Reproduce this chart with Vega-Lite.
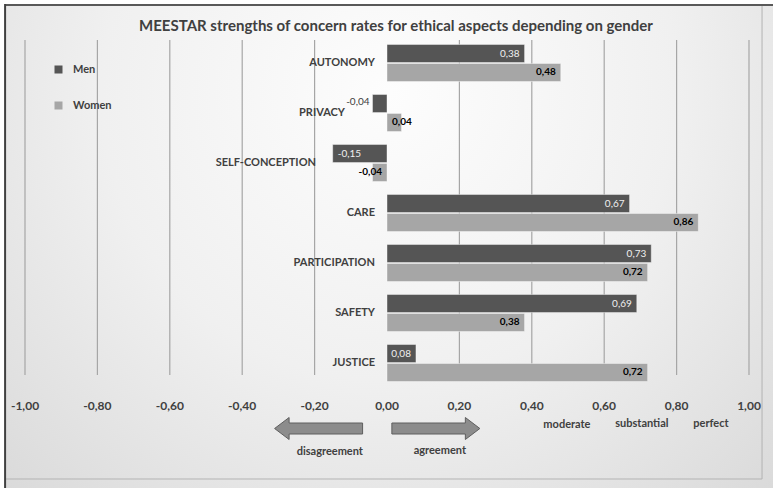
{
  "$schema": "https://vega.github.io/schema/vega-lite/v6.json",
  "width": 724,
  "height": 350,
  "autosize": {"type": "none"},
  "padding": {"left": 25, "top": 38, "right": 24, "bottom": 100},
  "background": "#ffffff",
  "title": {
    "text": "MEESTAR strengths of concern rates for ethical aspects depending on gender",
    "frame": "group",
    "anchor": "middle",
    "dx": 9,
    "offset": -31,
    "zindex": 1,
    "font": "Lato",
    "fontSize": 15,
    "fontWeight": "bold",
    "color": "#404040"
  },
  "config": {
    "locale": {"number": {"decimal": ",", "thousands": ".", "grouping": [3], "currency": ["", " €"], "minus": "-"}},
    "view": {"stroke": null},
    "font": "Lato",
    "text": {"font": "Lato"}
  },
  "datasets": {
    "rates": [
      {"aspect": "AUTONOMY", "gender": "Men", "value": 0.38},
      {"aspect": "AUTONOMY", "gender": "Women", "value": 0.48},
      {"aspect": "PRIVACY", "gender": "Men", "value": -0.04},
      {"aspect": "PRIVACY", "gender": "Women", "value": 0.04},
      {"aspect": "SELF-CONCEPTION", "gender": "Men", "value": -0.15},
      {"aspect": "SELF-CONCEPTION", "gender": "Women", "value": -0.04},
      {"aspect": "CARE", "gender": "Men", "value": 0.67},
      {"aspect": "CARE", "gender": "Women", "value": 0.86},
      {"aspect": "PARTICIPATION", "gender": "Men", "value": 0.73},
      {"aspect": "PARTICIPATION", "gender": "Women", "value": 0.72},
      {"aspect": "SAFETY", "gender": "Men", "value": 0.69},
      {"aspect": "SAFETY", "gender": "Women", "value": 0.38},
      {"aspect": "JUSTICE", "gender": "Men", "value": 0.08},
      {"aspect": "JUSTICE", "gender": "Women", "value": 0.72}
    ],
    "grid": [
      {"tick": -1}, {"tick": -0.8}, {"tick": -0.6}, {"tick": -0.4}, {"tick": -0.2}, {"tick": 0},
      {"tick": 0.2}, {"tick": 0.4}, {"tick": 0.6}, {"tick": 0.8}, {"tick": 1}
    ]
  },
  "resolve": {"scale": {"y": "independent"}},
  "layer": [
    {
      "data": {"values": [{}]},
      "layer": [
        {
          "mark": {
            "type": "rect",
            "fill": {
              "gradient": "radial",
              "x1": 0.5, "y1": 0.3, "r1": 0,
              "x2": 0.5, "y2": 0.3, "r2": 0.75,
              "stops": [
                {"offset": 0, "color": "#fdfdfd"},
                {"offset": 0.5, "color": "#f0f0f0"},
                {"offset": 1, "color": "#d8d8d8"}
              ]
            }
          },
          "encoding": {
            "x": {"datum": -1.055, "type": "quantitative", "scale": {"domain": [-1, 1], "nice": false}, "axis": null},
            "x2": {"datum": 1.07},
            "y": {"datum": 383, "type": "quantitative", "scale": {"domain": [0, 350], "nice": false}, "axis": null},
            "y2": {"datum": -100}
          }
        },
        {
          "mark": {"type": "rule", "color": "#b3b3b3", "strokeWidth": 1},
          "encoding": {
            "x": {"datum": 1.036, "type": "quantitative", "scale": {"domain": [-1, 1], "nice": false}, "axis": null},
            "y": {"datum": 383, "type": "quantitative", "scale": {"domain": [0, 350], "nice": false}, "axis": null},
            "y2": {"datum": -91}
          }
        },
        {
          "mark": {"type": "rule", "color": "#b3b3b3", "strokeWidth": 1},
          "encoding": {
            "x": {"datum": -1.055, "type": "quantitative", "scale": {"domain": [-1, 1], "nice": false}, "axis": null},
            "x2": {"datum": 1.036},
            "y": {"datum": -91, "type": "quantitative", "scale": {"domain": [0, 350], "nice": false}, "axis": null}
          }
        },
        {
          "mark": {"type": "rule", "color": "#595959", "strokeWidth": 2},
          "encoding": {
            "x": {"datum": -1.055, "type": "quantitative", "scale": {"domain": [-1, 1], "nice": false}, "axis": null},
            "x2": {"datum": 1.07},
            "y": {"datum": 383, "type": "quantitative", "scale": {"domain": [0, 350], "nice": false}, "axis": null}
          }
        },
        {
          "mark": {"type": "rule", "color": "#404040", "strokeWidth": 2},
          "encoding": {
            "x": {"datum": -1.055, "type": "quantitative", "scale": {"domain": [-1, 1], "nice": false}, "axis": null},
            "y": {"datum": 384, "type": "quantitative", "scale": {"domain": [0, 350], "nice": false}, "axis": null},
            "y2": {"datum": -100}
          }
        },
        {
          "data": {"name": "grid"},
          "transform": [{"filter": "datum.tick != 0"}],
          "mark": {"type": "rule", "color": "#a6a6a6", "strokeWidth": 1.2},
          "encoding": {
            "x": {"field": "tick", "type": "quantitative", "scale": {"domain": [-1, 1], "nice": false}, "axis": null},
            "y": {"datum": 348, "type": "quantitative", "scale": {"domain": [0, 350], "nice": false}, "axis": null},
            "y2": {"datum": 13}
          }
        },
        {
          "data": {"name": "grid"},
          "mark": {"type": "text", "font": "Lato", "fontSize": 12, "fontWeight": "bold", "color": "#404040", "baseline": "middle"},
          "encoding": {
            "x": {"field": "tick", "type": "quantitative", "scale": {"domain": [-1, 1], "nice": false}, "axis": null},
            "y": {"datum": -18, "type": "quantitative", "scale": {"domain": [0, 350], "nice": false}, "axis": null},
            "text": {"field": "tick", "type": "quantitative", "format": ".2f"}
          }
        },
        {
          "mark": {
            "type": "point",
            "shape": "M1,-0.125L-0.67,-0.125L-0.67,-0.25L-1,0L-0.67,0.25L-0.67,0.125L1,0.125Z",
            "filled": true,
            "fill": "#8c8c8c",
            "stroke": "#5f5f5f",
            "strokeWidth": 1,
            "opacity": 1,
            "size": 7744
          },
          "encoding": {
            "x": {"datum": -0.189, "type": "quantitative", "scale": {"domain": [-1, 1], "nice": false}, "axis": null},
            "y": {"datum": -40.5, "type": "quantitative", "scale": {"domain": [0, 350], "nice": false}, "axis": null}
          }
        },
        {
          "mark": {
            "type": "point",
            "shape": "M-1,-0.125L0.67,-0.125L0.67,-0.25L1,0L0.67,0.25L0.67,0.125L-1,0.125Z",
            "filled": true,
            "fill": "#8c8c8c",
            "stroke": "#5f5f5f",
            "strokeWidth": 1,
            "opacity": 1,
            "size": 7744
          },
          "encoding": {
            "x": {"datum": 0.135, "type": "quantitative", "scale": {"domain": [-1, 1], "nice": false}, "axis": null},
            "y": {"datum": -40.5, "type": "quantitative", "scale": {"domain": [0, 350], "nice": false}, "axis": null}
          }
        },
        {
          "mark": {"type": "text", "font": "Lato", "fontSize": 11, "fontWeight": "bold", "color": "#404040", "baseline": "middle"},
          "encoding": {
            "x": {"datum": -0.158, "type": "quantitative", "scale": {"domain": [-1, 1], "nice": false}, "axis": null},
            "y": {"datum": -64, "type": "quantitative", "scale": {"domain": [0, 350], "nice": false}, "axis": null},
            "text": {"value": "disagreement"}
          }
        },
        {
          "mark": {"type": "text", "font": "Lato", "fontSize": 11, "fontWeight": "bold", "color": "#404040", "baseline": "middle"},
          "encoding": {
            "x": {"datum": 0.146, "type": "quantitative", "scale": {"domain": [-1, 1], "nice": false}, "axis": null},
            "y": {"datum": -63, "type": "quantitative", "scale": {"domain": [0, 350], "nice": false}, "axis": null},
            "text": {"value": "agreement"}
          }
        },
        {
          "mark": {"type": "text", "font": "Lato", "fontSize": 11, "fontWeight": "bold", "color": "#404040", "baseline": "middle"},
          "encoding": {
            "x": {"datum": 0.497, "type": "quantitative", "scale": {"domain": [-1, 1], "nice": false}, "axis": null},
            "y": {"datum": -37, "type": "quantitative", "scale": {"domain": [0, 350], "nice": false}, "axis": null},
            "text": {"value": "moderate"}
          }
        },
        {
          "mark": {"type": "text", "font": "Lato", "fontSize": 11, "fontWeight": "bold", "color": "#404040", "baseline": "middle"},
          "encoding": {
            "x": {"datum": 0.704, "type": "quantitative", "scale": {"domain": [-1, 1], "nice": false}, "axis": null},
            "y": {"datum": -36, "type": "quantitative", "scale": {"domain": [0, 350], "nice": false}, "axis": null},
            "text": {"value": "substantial"}
          }
        },
        {
          "mark": {"type": "text", "font": "Lato", "fontSize": 11, "fontWeight": "bold", "color": "#404040", "baseline": "middle"},
          "encoding": {
            "x": {"datum": 0.895, "type": "quantitative", "scale": {"domain": [-1, 1], "nice": false}, "axis": null},
            "y": {"datum": -36, "type": "quantitative", "scale": {"domain": [0, 350], "nice": false}, "axis": null},
            "text": {"value": "perfect"}
          }
        }
      ]
    },
    {
      "data": {"name": "rates"},
      "encoding": {
        "y": {"field": "aspect", "type": "nominal", "sort": null, "axis": null, "scale": {"paddingInner": 0.26, "paddingOuter": 0.13}}
      },
      "layer": [
        {
          "mark": {"type": "bar", "stroke": "#ffffff", "strokeOpacity": 0.5, "strokeWidth": 0.8},
          "encoding": {
            "x": {"field": "value", "type": "quantitative", "scale": {"domain": [-1, 1], "nice": false}, "axis": null},
            "x2": {"datum": 0},
            "yOffset": {"field": "gender", "type": "nominal", "sort": ["Men", "Women"], "scale": {"paddingInner": 0.05}},
            "color": {
              "field": "gender", "type": "nominal",
              "scale": {"domain": ["Men", "Women"], "range": ["#555555", "#a6a6a6"]},
              "legend": {
                "title": null, "orient": "none", "legendX": 28, "legendY": 26,
                "padding": 0, "symbolType": "square", "symbolSize": 64,
                "symbolStrokeWidth": 0, "rowPadding": 24, "labelOffset": 9,
                "labelFont": "Lato", "labelFontSize": 11, "labelFontWeight": "bold",
                "labelColor": "#404040"
              }
            }
          }
        },
        {
          "mark": {"type": "rule", "color": "#333333", "strokeWidth": 1.5},
          "encoding": {
            "x": {"datum": 0, "type": "quantitative", "scale": {"domain": [-1, 1], "nice": false}, "axis": null}
          }
        },
        {
          "transform": [{"filter": "datum.gender == 'Men' && datum.aspect != 'PRIVACY' && datum.aspect != 'SELF-CONCEPTION'"}],
          "mark": {"type": "text", "align": "right", "dx": -12, "font": "Lato", "fontSize": 11, "fontWeight": "bold", "color": "#404040", "baseline": "middle"},
          "encoding": {
            "x": {"datum": 0, "type": "quantitative", "scale": {"domain": [-1, 1], "nice": false}, "axis": null},
            "text": {"field": "aspect"}
          }
        },
        {
          "transform": [{"filter": "datum.gender == 'Men' && datum.aspect == 'PRIVACY'"}],
          "mark": {"type": "text", "align": "right", "dx": -42, "font": "Lato", "fontSize": 11, "fontWeight": "bold", "color": "#404040", "baseline": "middle"},
          "encoding": {
            "x": {"datum": 0, "type": "quantitative", "scale": {"domain": [-1, 1], "nice": false}, "axis": null},
            "text": {"field": "aspect"}
          }
        },
        {
          "transform": [{"filter": "datum.gender == 'Men' && datum.aspect == 'SELF-CONCEPTION'"}],
          "mark": {"type": "text", "align": "right", "dx": -71, "font": "Lato", "fontSize": 11, "fontWeight": "bold", "color": "#404040", "baseline": "middle"},
          "encoding": {
            "x": {"datum": 0, "type": "quantitative", "scale": {"domain": [-1, 1], "nice": false}, "axis": null},
            "text": {"field": "aspect"}
          }
        },
        {
          "transform": [{"filter": "datum.gender == 'Men' && datum.value >= 0"}],
          "mark": {"type": "text", "align": "right", "dx": -5, "font": "Lato", "fontSize": 10, "color": "#f0f0f0", "baseline": "middle"},
          "encoding": {
            "x": {"field": "value", "type": "quantitative", "scale": {"domain": [-1, 1], "nice": false}, "axis": null},
            "yOffset": {"field": "gender", "type": "nominal", "sort": ["Men", "Women"], "scale": {"paddingInner": 0.05}},
            "text": {"field": "value", "type": "quantitative", "format": ".2f"}
          }
        },
        {
          "transform": [{"filter": "datum.gender == 'Men' && datum.value < 0 && datum.value > -0.1"}],
          "mark": {"type": "text", "align": "right", "dx": -3, "dy": -2, "font": "Lato", "fontSize": 10, "color": "#404040", "baseline": "middle"},
          "encoding": {
            "x": {"field": "value", "type": "quantitative", "scale": {"domain": [-1, 1], "nice": false}, "axis": null},
            "yOffset": {"field": "gender", "type": "nominal", "sort": ["Men", "Women"], "scale": {"paddingInner": 0.05}},
            "text": {"field": "value", "type": "quantitative", "format": ".2f"}
          }
        },
        {
          "transform": [{"filter": "datum.gender == 'Men' && datum.value <= -0.1"}],
          "mark": {"type": "text", "align": "left", "dx": 5, "font": "Lato", "fontSize": 10, "color": "#f0f0f0", "baseline": "middle"},
          "encoding": {
            "x": {"field": "value", "type": "quantitative", "scale": {"domain": [-1, 1], "nice": false}, "axis": null},
            "yOffset": {"field": "gender", "type": "nominal", "sort": ["Men", "Women"], "scale": {"paddingInner": 0.05}},
            "text": {"field": "value", "type": "quantitative", "format": ".2f"}
          }
        },
        {
          "transform": [{"filter": "datum.gender == 'Women' && datum.value >= 0.1"}],
          "mark": {"type": "text", "align": "right", "dx": -5, "font": "Lato", "fontSize": 10, "fontWeight": "bold", "color": "#000000", "baseline": "middle"},
          "encoding": {
            "x": {"field": "value", "type": "quantitative", "scale": {"domain": [-1, 1], "nice": false}, "axis": null},
            "yOffset": {"field": "gender", "type": "nominal", "sort": ["Men", "Women"], "scale": {"paddingInner": 0.05}},
            "text": {"field": "value", "type": "quantitative", "format": ".2f"}
          }
        },
        {
          "transform": [{"filter": "datum.gender == 'Women' && datum.value >= 0 && datum.value < 0.1"}],
          "mark": {"type": "text", "align": "left", "dx": 5, "font": "Lato", "fontSize": 10, "fontWeight": "bold", "color": "#000000", "baseline": "middle"},
          "encoding": {
            "x": {"datum": 0, "type": "quantitative", "scale": {"domain": [-1, 1], "nice": false}, "axis": null},
            "yOffset": {"field": "gender", "type": "nominal", "sort": ["Men", "Women"], "scale": {"paddingInner": 0.05}},
            "text": {"field": "value", "type": "quantitative", "format": ".2f"}
          }
        },
        {
          "transform": [{"filter": "datum.gender == 'Women' && datum.value < 0"}],
          "mark": {"type": "text", "align": "right", "dx": -5, "font": "Lato", "fontSize": 10, "fontWeight": "bold", "color": "#000000", "baseline": "middle"},
          "encoding": {
            "x": {"datum": 0, "type": "quantitative", "scale": {"domain": [-1, 1], "nice": false}, "axis": null},
            "yOffset": {"field": "gender", "type": "nominal", "sort": ["Men", "Women"], "scale": {"paddingInner": 0.05}},
            "text": {"field": "value", "type": "quantitative", "format": ".2f"}
          }
        }
      ]
    }
  ]
}
